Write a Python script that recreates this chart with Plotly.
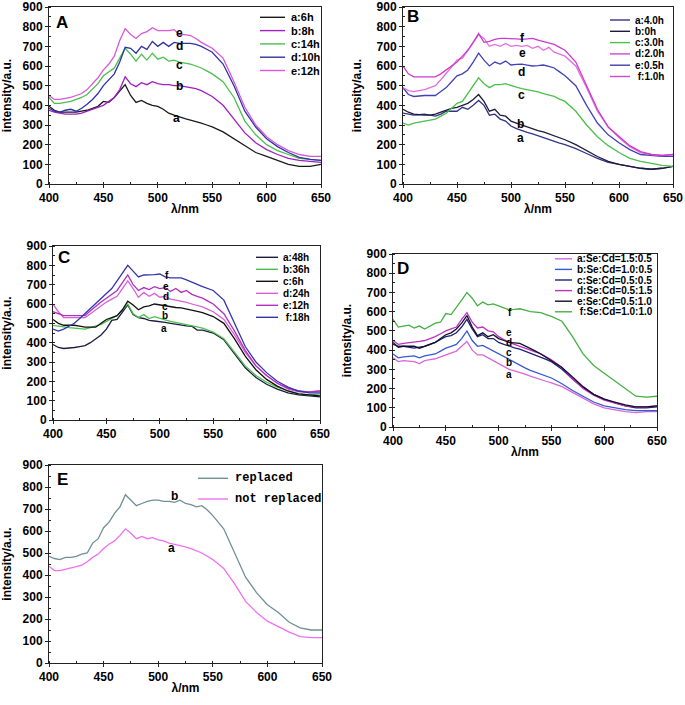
import plotly.graph_objects as go

# Shared wavelength grid (nm)
wl = [400,405,410,415,420,425,430,435,440,445,450,455,460,465,470,475,480,485,490,495,
      500,505,510,515,520,525,530,535,540,545,550,560,570,580,590,600,610,620,630,640,650]

# Panel A
A_a = [395,375,365,365,365,365,370,375,385,395,420,415,440,470,505,450,415,425,410,400,395,380,360,350,340,332,325,318,310,300,290,265,230,195,160,140,120,100,90,90,100]
A_b = [375,365,360,355,355,355,360,370,380,390,400,420,440,480,545,510,495,515,505,520,510,505,505,500,500,495,490,485,475,460,445,400,330,260,210,175,150,130,120,115,110]
A_c = [440,410,410,415,420,430,440,455,480,510,550,570,590,640,690,660,625,660,630,665,635,645,625,630,620,615,610,600,590,575,560,520,440,320,250,200,170,150,130,125,120]
A_d = [385,370,365,375,380,370,385,405,430,460,500,530,560,620,695,690,665,700,685,725,700,720,700,720,715,715,715,710,700,685,670,610,500,370,290,230,190,160,135,125,120]
A_e = [450,430,430,435,440,450,460,480,510,540,580,610,650,730,790,760,740,765,775,795,780,780,780,785,760,760,755,740,720,705,690,640,520,390,300,240,200,170,150,140,140]

# Panel B
B_a = [360,355,350,352,355,350,345,355,370,370,370,390,380,400,425,400,350,355,330,320,295,282,270,262,255,245,235,225,215,208,200,180,155,130,110,100,90,80,75,80,90]
B_b = [380,365,355,352,350,350,355,365,375,385,390,400,410,430,455,420,370,380,350,345,320,310,300,290,280,272,265,255,245,235,225,200,170,140,115,100,90,80,75,80,90]
B_c = [310,300,310,315,320,325,330,345,360,385,410,420,460,500,540,510,490,505,505,510,500,492,485,480,475,468,460,452,445,432,420,370,300,240,195,160,130,115,105,95,90]
B_d = [490,455,445,448,450,450,450,470,490,520,550,560,580,620,665,630,600,620,610,625,605,608,610,605,600,602,605,598,590,570,550,500,400,310,250,210,175,150,145,140,140]
B_e = [490,475,470,475,480,490,500,530,560,595,630,640,680,720,760,740,700,710,700,715,700,705,700,705,690,700,680,695,670,660,650,600,490,370,290,235,190,160,150,145,150]
B_f = [600,560,545,545,545,545,545,560,580,600,620,650,680,720,765,720,725,735,740,740,740,738,735,738,740,732,725,718,710,695,680,620,500,380,290,240,195,165,150,145,150]

# Panel C
C_a = [390,375,370,372,375,380,385,400,420,440,470,515,520,560,595,545,530,525,515,512,510,505,500,495,490,487,485,465,465,458,450,415,345,270,220,185,160,140,130,125,120]
C_b = [490,485,480,478,475,472,470,478,485,495,510,525,540,570,600,550,530,545,525,535,525,518,510,505,500,495,490,482,475,465,455,420,350,280,230,195,170,150,135,130,135]
C_c = [520,500,490,490,490,485,480,480,480,500,520,530,540,570,615,595,570,585,590,600,595,590,585,582,580,575,570,562,555,545,535,500,420,330,260,210,175,150,135,130,125]
C_d = [600,560,530,530,530,530,530,550,570,590,610,625,640,680,720,680,635,660,640,655,635,640,625,620,615,608,600,592,585,572,560,520,440,350,280,230,190,160,145,145,150]
C_e = [560,550,540,540,540,540,540,565,590,610,630,650,670,710,750,700,670,685,675,690,680,685,665,680,660,670,650,640,630,615,600,550,460,360,280,230,190,165,150,145,150]
C_f = [470,460,470,485,500,525,550,575,600,625,650,680,720,760,800,770,740,750,750,752,755,740,735,735,735,725,715,702,690,680,670,620,500,380,300,245,200,170,150,140,140]

# Panel D
D_a = [360,340,345,342,340,330,345,350,355,365,375,385,395,420,445,400,375,375,360,345,330,315,300,292,285,275,265,255,245,238,230,210,180,150,120,100,90,80,75,80,80]
D_b = [380,360,365,368,370,360,370,375,380,395,410,420,430,460,500,450,420,425,410,395,380,365,350,335,320,308,295,285,275,265,255,225,190,160,130,110,100,90,85,85,85]
D_c = [430,420,420,415,410,415,420,430,440,455,470,475,490,520,560,510,470,480,460,460,440,430,420,412,405,395,385,375,365,352,340,300,250,205,170,145,125,110,100,100,105]
D_d = [450,430,435,438,440,445,450,460,470,485,500,510,520,560,595,545,515,520,500,495,470,455,440,430,420,410,400,390,380,365,350,310,250,200,165,140,125,110,105,105,110]
D_e = [440,415,420,420,420,410,420,430,440,460,480,490,510,540,580,520,475,490,470,480,460,450,440,438,435,422,410,395,380,362,345,310,260,210,170,145,130,115,105,105,110]
D_f = [560,520,525,530,515,525,510,525,540,545,590,585,620,660,700,670,630,650,635,640,630,620,610,612,615,608,600,598,595,585,575,550,470,380,320,280,240,200,160,155,160]

# Panel E
E_b = [485,475,470,480,480,485,495,500,545,565,615,640,680,710,765,740,715,725,735,740,740,735,735,730,740,725,720,710,715,695,670,610,500,390,320,265,230,185,160,150,150]
E_a = [440,420,420,425,430,438,445,460,480,495,520,540,555,580,610,590,565,575,565,570,560,555,545,540,535,528,520,510,500,485,470,430,360,280,230,190,165,140,120,115,115]

x_ticks = [400, 450, 500, 550, 600, 650]
y_ticks = [0, 100, 200, 300, 400, 500, 600, 700, 800, 900]

FONT = "Liberation Sans, Arial, sans-serif"

panels = [
    dict(key="A", dom_x=[49, 321], dom_y=[7, 184], xtitle=True, lab_size=12,
         curves=[(A_a, "#1a1a1a"), (A_b, "#a020c0"), (A_c, "#4cbf4c"), (A_d, "#3030a8"), (A_e, "#d858d8")],
         legend=[("a:6h", "#1a1a1a"), ("b:8h", "#a020c0"), ("c:14h", "#4cbf4c"), ("d:10h", "#3030a8"), ("e:12h", "#d858d8")],
         leg=dict(x0=260, x1=285, xt=289, y0=17.3, dy=13.3, font=FONT, size=11),
         labels=[("e", 520, 768), ("d", 520, 700), ("c", 520, 603), ("b", 520, 497), ("a", 517, 335)],
         letter=(412, 822)),
    dict(key="B", dom_x=[403, 673], dom_y=[7, 184], xtitle=True, lab_size=12,
         curves=[(B_a, "#33338a"), (B_b, "#1c1c38"), (B_c, "#4cbf4c"), (B_d, "#4040b8"), (B_e, "#e070e0"), (B_f, "#cc3ccc")],
         legend=[("a:4.0h", "#33338a"), ("b:0h", "#1c1c38"), ("c:3.0h", "#4cbf4c"), ("d:2.0h", "#d048d0"), ("e:0.5h", "#4040a8"), (" f:1.0h", "#d048d0")],
         leg=dict(x0=610, x1=630, xt=633, y0=20, dy=11.3, font=FONT, size=10),
         labels=[("f", 511, 743), ("e", 511, 664), ("d", 510, 571), ("c", 510, 453), ("b", 509, 306), ("a", 509, 233)],
         letter=(409, 850)),
    dict(key="C", dom_x=[53, 320], dom_y=[246, 420], xtitle=False, lab_size=10,
         curves=[(C_a, "#1c1c40"), (C_b, "#4cbf4c"), (C_c, "#111111"), (C_d, "#d860d8"), (C_e, "#b030c0"), (C_f, "#3434b0")],
         legend=[("a:48h", "#1c1c40"), ("b:36h", "#4cbf4c"), ("c:6h", "#111111"), ("d:24h", "#d860d8"), ("e:12h", "#b030c0"), (" f:18h", "#3434b0")],
         leg=dict(x0=256, x1=278, xt=281, y0=257.3, dy=12, font=FONT, size=10),
         labels=[("f", 507, 745), ("e", 506, 693), ("d", 506, 638), ("c", 505, 585), ("b", 505, 538), ("a", 504, 472)],
         letter=(410, 838)),
    dict(key="D", dom_x=[393, 657], dom_y=[254, 427], xtitle=True, lab_size=10,
         curves=[(D_a, "#d868d8"), (D_b, "#3858d0"), (D_c, "#20207a"), (D_d, "#c030c0"), (D_e, "#101028"), (D_f, "#44b044")],
         legend=[("a:Se:Cd=1.5:0.5", "#d868d8"), ("b:Se:Cd=1.0:0.5", "#3858d0"), ("c:Se:Cd=0.5:0.5", "#20207a"),
                 ("d:Se:Cd=0.5:1.5", "#c030c0"), ("e:Se:Cd=0.5:1.0", "#101028"), (" f:Se:Cd=1.0:1.0", "#44b044")],
         leg=dict(x0=555, x1=572, xt=575, y0=258.8, dy=10.6, font=FONT, size=10),
         labels=[("f", 511, 598), ("e", 510, 492), ("d", 510, 440), ("c", 510, 387), ("b", 510, 334), ("a", 510, 274)],
         letter=(409, 827)),
    dict(key="E", dom_x=[49, 322], dom_y=[465, 663], xtitle=True, lab_size=12,
         curves=[(E_b, "#6f9096"), (E_a, "#f070f0")],
         legend=[("replaced", "#6f9096"), ("not replaced", "#f070f0")],
         leg=dict(x0=198, x1=228, xt=233, y0=478.3, dy=20.7, font="Liberation Mono, monospace", size=12),
         labels=[("b", 515, 761), ("a", 512, 525)],
         letter=(412, 832)),
]

W, H = 685, 705

fig = go.Figure()
shapes = []
annotations = []
bold = dict(family=FONT, size=12, color="black", weight="bold")

for i, p in enumerate(panels, start=1):
    xa = "x" if i == 1 else f"x{i}"
    ya = "y" if i == 1 else f"y{i}"
    for vals, col in p["curves"]:
        fig.add_trace(go.Scatter(x=wl, y=vals, mode="lines", xaxis=xa, yaxis=ya,
                                 line=dict(color=col, width=1.3), showlegend=False,
                                 hoverinfo="x+y"))
    dx0, dx1 = p["dom_x"]
    dy0, dy1 = p["dom_y"]
    xdom = [dx0 / W, dx1 / W]
    ydom = [1 - dy1 / H, 1 - dy0 / H]
    axis_common = dict(showline=True, linecolor="#222", linewidth=1, mirror=True,
                       ticks="outside", ticklen=3, tickcolor="#222", showgrid=False,
                       zeroline=False, tickfont=bold, automargin=False,
                       ticklabeloverflow="allow")
    xkey = "xaxis" if i == 1 else f"xaxis{i}"
    ykey = "yaxis" if i == 1 else f"yaxis{i}"
    fig.update_layout(**{
        xkey: dict(domain=xdom, range=[400, 650], anchor=ya, tickvals=x_ticks,
                   minor=dict(dtick=25, ticks="inside", ticklen=2, tickcolor="#222"),
                   title=dict(text="λ/nm" if p["xtitle"] else "", font=bold, standoff=0),
                   **axis_common),
        ykey: dict(domain=ydom, range=[0, 900], anchor=xa, tickvals=y_ticks,
                   minor=dict(dtick=50, ticks="inside", ticklen=2, tickcolor="#222"),
                   title=dict(text="intensity/a.u.", font=bold, standoff=12),
                   **axis_common),
    })
    lx, ly = p["letter"]
    annotations.append(dict(x=lx, y=ly, xref=xa, yref=ya, text=p["key"], showarrow=False,
                            font=dict(family=FONT, size=17, color="black", weight="bold")))
    for t, lxv, lyv in p["labels"]:
        annotations.append(dict(x=lxv, y=lyv, xref=xa, yref=ya, text=t, showarrow=False,
                                font=dict(family=FONT, size=p["lab_size"], color="black", weight="bold")))
    L = p["leg"]
    pw = dx1 - dx0
    ph = dy1 - dy0
    for k, (txt, col) in enumerate(p["legend"]):
        yy = 1 - (L["y0"] + k * L["dy"] - dy0) / ph
        shapes.append(dict(type="line", xref=f"{xa} domain", yref=f"{ya} domain",
                           x0=(L["x0"] - dx0) / pw, x1=(L["x1"] - dx0) / pw, y0=yy, y1=yy,
                           line=dict(color=col, width=1.4)))
        annotations.append(dict(x=(L["xt"] - dx0) / pw, y=yy, xref=f"{xa} domain", yref=f"{ya} domain",
                                text=txt, showarrow=False, xanchor="left", yanchor="middle",
                                font=dict(family=L["font"], size=L["size"], color="black", weight="bold")))

fig.update_layout(width=W, height=H, margin=dict(l=0, r=0, t=0, b=0),
                  paper_bgcolor="white", plot_bgcolor="white",
                  shapes=shapes, annotations=annotations, showlegend=False)
# remove the page's default body margin so the figure sits at the window origin
fig.write_html("out.html", config={"displayModeBar": False},
               post_script="document.body.style.margin='0';document.body.style.overflow='hidden';")
